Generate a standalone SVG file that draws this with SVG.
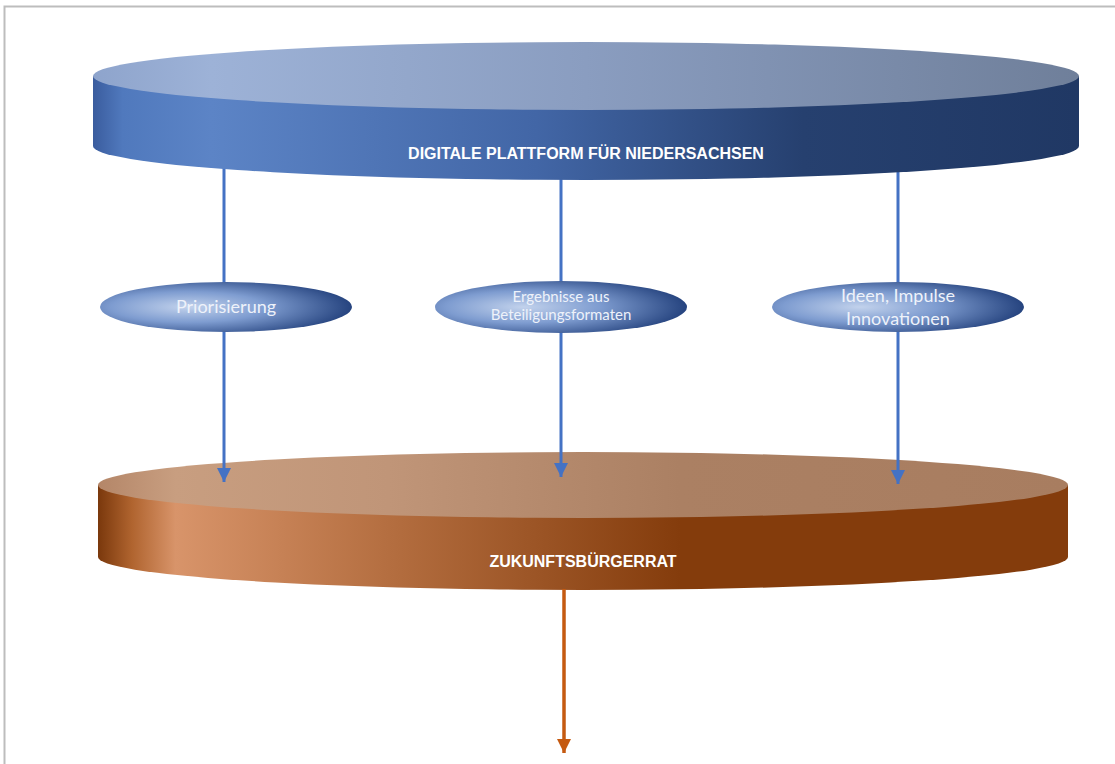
<svg xmlns="http://www.w3.org/2000/svg" width="1115" height="764" viewBox="0 0 1115 764">
  <style>
    .title { font-family: "Liberation Sans", Arial, sans-serif; font-weight: bold; font-size: 16px; fill: #ffffff; text-anchor: middle; }
    .label { font-family: Lato, "Open Sans", sans-serif; fill: #eef2fa; text-anchor: middle; }
    .flow { stroke: #4472c4; stroke-width: 3; fill: none; }
    .out { stroke: #c55a11; stroke-width: 3.5; fill: none; }
  </style>
  <defs>
    <!-- upper platform -->
    <linearGradient id="topFaceBlue" x1="0" y1="0" x2="1" y2="0">
      <stop offset="0" stop-color="#8ea4cc"/>
      <stop offset="0.12" stop-color="#9db2d7"/>
      <stop offset="0.5" stop-color="#8a9dc0"/>
      <stop offset="1" stop-color="#6f7f9a"/>
    </linearGradient>
    <linearGradient id="wallBlue" x1="0" y1="0" x2="1" y2="0">
      <stop offset="0" stop-color="#3a5c9e"/>
      <stop offset="0.03" stop-color="#5079bd"/>
      <stop offset="0.12" stop-color="#5c84c6"/>
      <stop offset="0.45" stop-color="#4266a6"/>
      <stop offset="0.72" stop-color="#26406f"/>
      <stop offset="1" stop-color="#203864"/>
    </linearGradient>
    <!-- lower platform -->
    <linearGradient id="topFaceBrown" x1="0" y1="0" x2="1" y2="0">
      <stop offset="0" stop-color="#b48668"/>
      <stop offset="0.08" stop-color="#c89e80"/>
      <stop offset="0.3" stop-color="#c09578"/>
      <stop offset="0.6" stop-color="#ab8063"/>
      <stop offset="1" stop-color="#a87d60"/>
    </linearGradient>
    <linearGradient id="wallBrown" x1="0" y1="0" x2="1" y2="0">
      <stop offset="0" stop-color="#7a380c"/>
      <stop offset="0.035" stop-color="#b0642f"/>
      <stop offset="0.08" stop-color="#d8946a"/>
      <stop offset="0.3" stop-color="#b46e40"/>
      <stop offset="0.6" stop-color="#843c0c"/>
      <stop offset="1" stop-color="#843c0c"/>
    </linearGradient>
    <!-- label bubbles -->
    <radialGradient id="bubble" cx="0.35" cy="0.5" r="0.68">
      <stop offset="0" stop-color="#c2d2ec"/>
      <stop offset="0.45" stop-color="#7e9cd0"/>
      <stop offset="1" stop-color="#1e3c78"/>
    </radialGradient>
    <marker id="headBlue" viewBox="0 0 14 14" refX="14" refY="7" markerWidth="14" markerHeight="14" markerUnits="userSpaceOnUse" orient="auto">
      <path d="M0,0 L14,7 L0,14 Z" fill="#4472c4"/>
    </marker>
    <marker id="headOrange" viewBox="0 0 14 14" refX="14" refY="7" markerWidth="14" markerHeight="15" markerUnits="userSpaceOnUse" orient="auto">
      <path d="M0,0 L14,7 L0,14 Z" fill="#c55a11"/>
    </marker>
  </defs>

  <rect width="1115" height="764" fill="#ffffff"/>
  <!-- page frame -->
  <path d="M4.5,764 V6.5 H1115" fill="none" stroke="#bdbdbd" stroke-width="2"/>

  <g id="zukunftsbuergerrat">
    <path d="M98,485 V557 A485,33 0 0 0 1068,557 V485 Z" fill="url(#wallBrown)"/>
    <ellipse cx="583" cy="485" rx="485" ry="33" fill="url(#topFaceBrown)"/>
    <text class="title" x="583" y="567">ZUKUNFTSBÜRGERRAT</text>
  </g>

  <g id="connectors">
    <line class="flow" x1="224" y1="160" x2="224" y2="482" marker-end="url(#headBlue)"/>
    <line class="flow" x1="561" y1="160" x2="561" y2="477" marker-end="url(#headBlue)"/>
    <line class="flow" x1="898" y1="160" x2="898" y2="484" marker-end="url(#headBlue)"/>
    <line class="out" x1="564" y1="589" x2="564" y2="753" marker-end="url(#headOrange)"/>
  </g>

  <g id="plattform">
    <path d="M93,76 V146 A493,34 0 0 0 1079,146 V76 Z" fill="url(#wallBlue)"/>
    <ellipse cx="586" cy="76" rx="493" ry="34" fill="url(#topFaceBlue)"/>
    <text class="title" x="586" y="159">DIGITALE PLATTFORM FÜR NIEDERSACHSEN</text>
  </g>

  <g id="priorisierung">
    <ellipse cx="226" cy="307" rx="126" ry="25" fill="url(#bubble)"/>
    <text class="label" x="226" y="313" font-size="18">Priorisierung</text>
  </g>

  <g id="ergebnisse">
    <ellipse cx="561" cy="307" rx="126" ry="26" fill="url(#bubble)"/>
    <text class="label" x="561" y="302" font-size="15">Ergebnisse aus</text>
    <text class="label" x="561" y="320" font-size="15">Beteiligungsformaten</text>
  </g>

  <g id="ideen">
    <ellipse cx="898" cy="307" rx="126" ry="25" fill="url(#bubble)"/>
    <text class="label" x="898" y="302" font-size="18">Ideen, Impulse</text>
    <text class="label" x="898" y="325" font-size="18">Innovationen</text>
  </g>
</svg>
